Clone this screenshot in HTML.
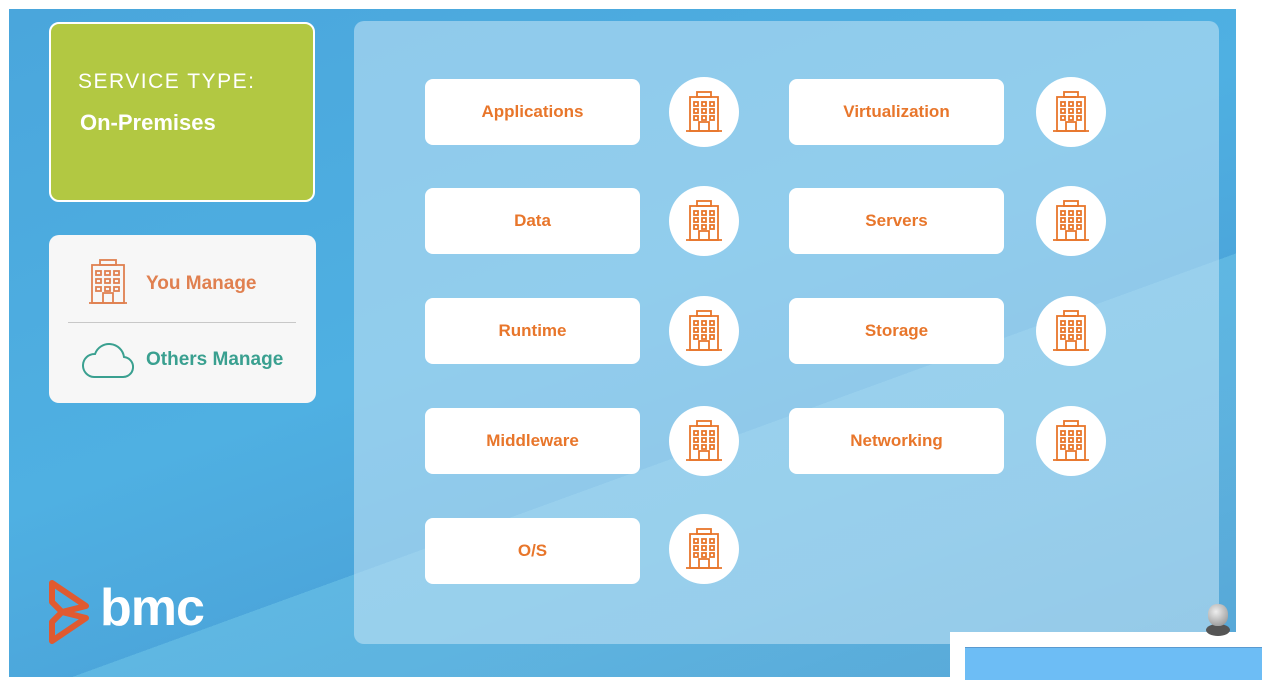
<!DOCTYPE html>
<html style="overflow:hidden"><head><meta charset="utf-8"><style>
html,body{margin:0;width:1262px;height:680px;overflow:hidden}
body{background:#fff;position:relative;font-family:"Liberation Sans",sans-serif}
.bg{position:absolute;left:9px;top:9px;width:1227px;height:668px;background:linear-gradient(160deg,#4aa6dc 0%,#4fb0e2 45%,#4a9fd6 75%,#3f8cc8 100%);overflow:hidden}
.panel{position:absolute;left:354px;top:21px;width:865px;height:623px;border-radius:10px;background:rgba(200,230,245,0.55)}
.box{position:absolute;width:215px;height:66px;background:#fff;border-radius:8px;color:#e8762b;font-weight:bold;font-size:17px;display:flex;align-items:center;justify-content:center}
.circ{position:absolute;width:70px;height:70px;border-radius:50%;background:#fff;display:flex;align-items:center;justify-content:center}
.green{position:absolute;left:49px;top:22px;width:262px;height:176px;background:#b2c842;border:2px solid #fff;border-radius:10px;color:#fff}
.leg{position:absolute;left:49px;top:235px;width:267px;height:168px;background:#f7f7f7;border-radius:10px}
</style></head><body>
<div class="bg">
<div style="position:absolute;left:0;top:0;width:1227px;height:668px;background:linear-gradient(160deg,rgba(0,0,0,0) 62%,rgba(130,215,240,0.35) 62%)"></div>
</div>
<div class="panel"></div>
<div class="green"><div style="position:absolute;left:27px;top:46px;font-size:21px;letter-spacing:1.5px">SERVICE TYPE:</div><div style="position:absolute;left:29px;top:86px;font-size:22px;font-weight:bold">On-Premises</div></div>
<div class="leg">
<svg style="position:absolute;left:39px;top:24px" width="40" height="46" viewBox="0 0 40 46"><g fill="none" stroke="#e08050" stroke-width="1.8"><rect x="4" y="6" width="32" height="38"/><rect x="12" y="1" width="16" height="5"/><path d="M1 44H39M15 44V34H25V44"/><rect x="8" y="12" width="5" height="4"/><rect x="17" y="12" width="5" height="4"/><rect x="26" y="12" width="5" height="4"/><rect x="8" y="20" width="5" height="4"/><rect x="17" y="20" width="5" height="4"/><rect x="26" y="20" width="5" height="4"/><rect x="8" y="28" width="5" height="4"/><rect x="17" y="28" width="5" height="4"/><rect x="26" y="28" width="5" height="4"/></g></svg>
<div style="position:absolute;left:97px;top:38px;font-size:19px;font-weight:bold;color:#e08050">You Manage</div>
<div style="position:absolute;left:19px;top:87px;width:228px;height:1px;background:#c8c8c8"></div>
<svg style="position:absolute;left:33px;top:105px" width="52" height="40" viewBox="0 0 52 40"><path d="M12 37H40a10 10 0 0 0 2-20 15 15 0 0 0-29-3A11 11 0 0 0 12 37Z" fill="none" stroke="#3aa090" stroke-width="2"/></svg>
<div style="position:absolute;left:97px;top:114px;font-size:19px;font-weight:bold;color:#3aa090">Others Manage</div>
</div>
<svg style="position:absolute;left:46px;top:578px" width="50" height="68" viewBox="0 0 50 68"><path d="M6 5L40 28L16 34L40 40L6 63L6 44L16 34L6 24Z" fill="none" stroke="#e05a30" stroke-width="6" stroke-linejoin="round"/></svg>
<div style="position:absolute;left:100px;top:578px;font-size:52px;font-weight:bold;color:#fff;letter-spacing:-1px;line-height:60px">bmc</div>

<div class="box" style="left:425px;top:79px">Applications</div>
<div class="box" style="left:425px;top:188px">Data</div>
<div class="box" style="left:425px;top:298px">Runtime</div>
<div class="box" style="left:425px;top:408px">Middleware</div>
<div class="box" style="left:425px;top:518px">O/S</div>
<div class="box" style="left:789px;top:79px">Virtualization</div>
<div class="box" style="left:789px;top:188px">Servers</div>
<div class="box" style="left:789px;top:298px">Storage</div>
<div class="box" style="left:789px;top:408px">Networking</div>

<svg width="0" height="0" style="position:absolute"><defs><g id="b" fill="none" stroke="#e8762b" stroke-width="1.8"><rect x="4" y="6" width="28" height="34"/><rect x="11" y="1" width="14" height="5"/><path d="M0 40H36M13 40V31H23V40"/><rect x="8" y="11" width="4" height="4"/><rect x="16" y="11" width="4" height="4"/><rect x="24" y="11" width="4" height="4"/><rect x="8" y="18" width="4" height="4"/><rect x="16" y="18" width="4" height="4"/><rect x="24" y="18" width="4" height="4"/><rect x="8" y="25" width="4" height="4"/><rect x="16" y="25" width="4" height="4"/><rect x="24" y="25" width="4" height="4"/></g></defs></svg>
<div class="circ" style="left:669px;top:77px"><svg width="36" height="42"><use href="#b"/></svg></div>
<div class="circ" style="left:669px;top:186px"><svg width="36" height="42"><use href="#b"/></svg></div>
<div class="circ" style="left:669px;top:296px"><svg width="36" height="42"><use href="#b"/></svg></div>
<div class="circ" style="left:669px;top:406px"><svg width="36" height="42"><use href="#b"/></svg></div>
<div class="circ" style="left:669px;top:514px"><svg width="36" height="42"><use href="#b"/></svg></div>
<div class="circ" style="left:1036px;top:77px"><svg width="36" height="42"><use href="#b"/></svg></div>
<div class="circ" style="left:1036px;top:186px"><svg width="36" height="42"><use href="#b"/></svg></div>
<div class="circ" style="left:1036px;top:296px"><svg width="36" height="42"><use href="#b"/></svg></div>
<div class="circ" style="left:1036px;top:406px"><svg width="36" height="42"><use href="#b"/></svg></div>

<div style="position:absolute;left:950px;top:632px;width:312px;height:48px;background:#fff"></div>
<div style="position:absolute;left:965px;top:647px;width:297px;height:33px;background:#6dbdf5;border-top:1px solid #5a9ad0;box-sizing:border-box"></div>
<div style="position:absolute;left:1206px;top:624px;width:24px;height:12px;border-radius:50%;background:#555"></div>
<div style="position:absolute;left:1208px;top:604px;width:20px;height:22px;border-radius:45%;background:radial-gradient(circle at 40% 35%,#eee,#888)"></div>
</body></html>
